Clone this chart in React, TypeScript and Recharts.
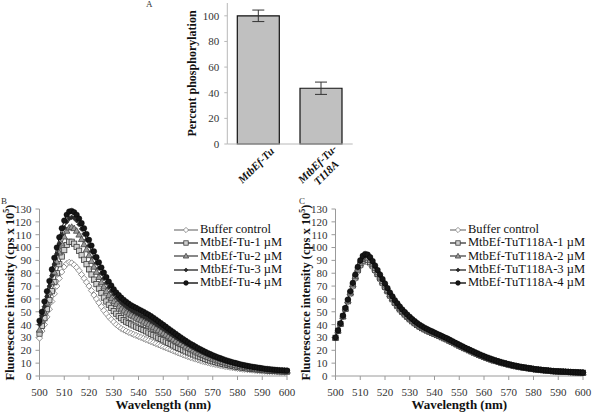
import * as React from "react";
import { BarChart, Bar, ErrorBar, LineChart, Line, XAxis, YAxis, Legend } from "recharts";

const SERIF = "'Times New Roman', Times, 'Liberation Serif', 'DejaVu Serif', serif";

// panel A
const barNames = ["MtbEf-Tu", "MtbEf-Tu-T118A"];
const barLines = [["MtbEf-Tu"], ["MtbEf-Tu-", "T118A"]];
const barValues = [100, 43.5];
const barErrors = [4.5, 4.8];
const barTicks = [0, 20, 40, 60, 80, 100];

// panels B and C
const wavelengths = [
  500, 501, 502, 503, 504, 505, 506, 507, 508, 509,
  510, 511, 512, 513, 514, 515, 516, 517, 518, 519,
  520, 521, 522, 523, 524, 525, 526, 527, 528, 529,
  530, 531, 532, 533, 534, 535, 536, 537, 538, 539,
  540, 541, 542, 543, 544, 545, 546, 547, 548, 549,
  550, 551, 552, 553, 554, 555, 556, 557, 558, 559,
  560, 561, 562, 563, 564, 565, 566, 567, 568, 569,
  570, 571, 572, 573, 574, 575, 576, 577, 578, 579,
  580, 581, 582, 583, 584, 585, 586, 587, 588, 589,
  590, 591, 592, 593, 594, 595, 596, 597, 598, 599,
  600,
];
const xTicks = [500, 510, 520, 530, 540, 550, 560, 570, 580, 590, 600];
const yTicks = [0, 10, 20, 30, 40, 50, 60, 70, 80, 90, 100, 110, 120, 130];

const bBuffer = [
  29.5, 35, 40, 46, 52, 58, 64, 70, 76, 81,
  85, 87.5, 88.5, 88, 86.5, 84.5, 82, 79, 76, 73,
  70, 66.5, 63, 60, 57, 54, 51, 48.5, 46, 44,
  42, 40, 38.5, 37, 36, 35, 34, 33.2, 32.4, 31.6,
  30.8, 30, 29.2, 28.4, 27.6, 26.8, 26, 25.2, 24.4, 23.6,
  22.8, 22, 21.2, 20.4, 19.6, 18.8, 18, 17.2, 16.5, 15.8,
  15.1, 14.4, 13.8, 13.2, 12.6, 12, 11.4, 10.9, 10.4, 9.9,
  9.4, 9, 8.6, 8.2, 7.8, 7.4, 7.1, 6.8, 6.5, 6.2,
  5.9, 5.6, 5.4, 5.2, 5, 4.8, 4.6, 4.4, 4.2, 4,
  3.8, 3.7, 3.6, 3.5, 3.4, 3.3, 3.2, 3.1, 3, 2.9,
  2.8,
];
const bOne = [
  33, 39, 45, 52, 59, 66, 73, 80, 87, 93,
  98, 102, 104.5, 104.5, 103, 100.5, 97.5, 94, 90.5, 87,
  83, 79, 75, 71.5, 68, 64.5, 61, 58, 55.5, 53,
  50.5, 48.5, 46.5, 45, 43.5, 42.3, 41.2, 40.2, 39.3, 38.4,
  37.5, 36.6, 35.7, 34.8, 33.8, 32.8, 31.8, 30.8, 29.8, 28.8,
  27.8, 26.8, 25.8, 24.8, 23.8, 22.8, 21.9, 21, 20.1, 19.2,
  18.4, 17.6, 16.8, 16, 15.3, 14.6, 13.9, 13.2, 12.6, 12,
  11.4, 10.9, 10.4, 9.9, 9.4, 9, 8.6, 8.2, 7.8, 7.4,
  7.1, 6.8, 6.5, 6.2, 5.9, 5.7, 5.5, 5.3, 5.1, 4.9,
  4.7, 4.5, 4.3, 4.1, 4, 3.9, 3.8, 3.7, 3.6, 3.5,
  3.4,
];
const bTwo = [
  36, 43, 50, 57, 65, 73, 81, 89, 96, 103,
  108.5, 113, 115.5, 116, 115, 113, 110, 106.5, 102.5, 98.5,
  94, 89.5, 85, 81, 77, 73, 69.5, 66, 63, 60.5,
  58, 56, 54, 52.3, 50.8, 49.5, 48.3, 47.2, 46.2, 45.2,
  44.2, 43.2, 42.2, 41.2, 40.1, 39, 37.9, 36.8, 35.6, 34.4,
  33.2, 32, 30.8, 29.6, 28.4, 27.2, 26.1, 25, 23.9, 22.8,
  21.8, 20.8, 19.8, 18.9, 18, 17.1, 16.3, 15.5, 14.7, 14,
  13.3, 12.6, 12, 11.4, 10.8, 10.3, 9.8, 9.3, 8.9, 8.5,
  8.1, 7.7, 7.4, 7.1, 6.8, 6.5, 6.2, 5.9, 5.7, 5.5,
  5.3, 5.1, 4.9, 4.7, 4.5, 4.4, 4.3, 4.2, 4.1, 4,
  3.9,
];
const bThree = [
  40, 47, 54, 62, 70, 78, 87, 95, 103, 110,
  115.5, 120, 122.5, 123.5, 123, 121, 118, 114.5, 110.5, 106,
  101.5, 97, 92.5, 88, 84, 80, 76, 72.5, 69, 66,
  63.5, 61, 59, 57, 55.3, 53.8, 52.4, 51.2, 50, 49,
  48, 47, 46, 45, 43.9, 42.8, 41.6, 40.4, 39.2, 38,
  36.7, 35.4, 34.1, 32.8, 31.5, 30.2, 29, 27.8, 26.6, 25.4,
  24.3, 23.2, 22.1, 21.1, 20.1, 19.1, 18.2, 17.3, 16.4, 15.6,
  14.8, 14.1, 13.4, 12.7, 12.1, 11.5, 10.9, 10.4, 9.9, 9.4,
  8.9, 8.5, 8.1, 7.7, 7.3, 7, 6.7, 6.4, 6.1, 5.8,
  5.6, 5.4, 5.2, 5, 4.8, 4.6, 4.5, 4.4, 4.3, 4.2,
  4.1,
];
const bFour = [
  43, 50, 58, 66, 74, 83, 92, 100, 108, 115,
  121, 125.5, 128, 128.5, 127.5, 125.5, 122.5, 119, 115, 110.5,
  106, 101.5, 97, 92.5, 88.5, 84.5, 80.5, 77, 73.5, 70.5,
  67.5, 65, 63, 61, 59.3, 57.8, 56.4, 55.1, 54, 53,
  52, 51, 50, 48.9, 47.8, 46.6, 45.3, 44, 42.6, 41.2,
  39.8, 38.4, 37, 35.6, 34.2, 32.8, 31.4, 30.1, 28.8, 27.5,
  26.3, 25.1, 24, 22.9, 21.8, 20.8, 19.8, 18.8, 17.9, 17,
  16.2, 15.4, 14.6, 13.9, 13.2, 12.5, 11.9, 11.3, 10.7, 10.2,
  9.7, 9.2, 8.7, 8.3, 7.9, 7.5, 7.2, 6.9, 6.6, 6.3,
  6, 5.7, 5.5, 5.3, 5.1, 4.9, 4.7, 4.5, 4.4, 4.3,
  4.2,
];

const cBuffer = [
  29.5, 35, 40.3, 46, 51.8, 57.5, 63.5, 69.5, 75.5, 81,
  85, 88, 89, 88.5, 86.8, 84.3, 81.2, 78, 74.8, 71.5,
  68.2, 64.9, 61.6, 58.8, 55.9, 53.5, 51.1, 49, 47.1, 45.2,
  43.5, 41.9, 40.4, 39, 37.8, 36.7, 35.7, 34.8, 33.9, 33.1,
  32.3, 31.5, 30.6, 29.8, 28.9, 28.1, 27.1, 26.2, 25.2, 24.3,
  23.3, 22.4, 21.4, 20.6, 19.7, 18.8, 18, 17.1, 16.2, 15.5,
  14.7, 14, 13.3, 12.6, 11.9, 11.4, 10.8, 10.2, 9.7, 9.2,
  8.7, 8.3, 7.9, 7.5, 7.1, 6.8, 6.5, 6.2, 5.9, 5.6,
  5.3, 5, 4.8, 4.6, 4.4, 4.2, 4, 3.8, 3.7, 3.6,
  3.5, 3.4, 3.3, 3.2, 3.1, 3, 2.9, 2.8, 2.7, 2.6,
  2.5,
];
const cOne = [
  29.7, 35.2, 40.5, 46.3, 52.2, 58.2, 64.4, 70.5, 76.7, 82.4,
  86.7, 89.8, 91, 90.5, 88.7, 86, 82.7, 79.4, 76.1, 72.7,
  69.4, 66.1, 62.7, 59.8, 56.9, 54.4, 51.9, 49.8, 47.9, 46,
  44.2, 42.6, 41.1, 39.7, 38.4, 37.3, 36.3, 35.4, 34.5, 33.6,
  32.8, 31.9, 31.1, 30.2, 29.3, 28.5, 27.5, 26.6, 25.6, 24.6,
  23.6, 22.7, 21.7, 20.9, 20, 19.1, 18.2, 17.4, 16.5, 15.7,
  14.9, 14.2, 13.5, 12.8, 12.1, 11.6, 11, 10.4, 9.9, 9.4,
  8.9, 8.4, 8, 7.6, 7.2, 6.9, 6.6, 6.3, 6, 5.7,
  5.4, 5.1, 4.9, 4.7, 4.5, 4.3, 4.1, 3.9, 3.7, 3.6,
  3.5, 3.4, 3.3, 3.2, 3.1, 3, 2.9, 2.8, 2.7, 2.6,
  2.5,
];
const cTwo = [
  29.8, 35.3, 40.7, 46.6, 52.5, 58.8, 65.1, 71.4, 77.7, 83.5,
  88, 91.3, 92.5, 92, 90.1, 87.3, 84, 80.6, 77.2, 73.8,
  70.4, 67, 63.6, 60.7, 57.8, 55.2, 52.7, 50.5, 48.6, 46.6,
  44.9, 43.2, 41.7, 40.3, 39, 37.9, 36.8, 35.9, 34.9, 34,
  33.2, 32.3, 31.4, 30.6, 29.7, 28.8, 27.8, 26.9, 25.9, 24.9,
  23.9, 22.9, 21.9, 21.1, 20.2, 19.3, 18.4, 17.5, 16.7, 15.9,
  15.1, 14.3, 13.6, 12.9, 12.2, 11.7, 11.1, 10.5, 10, 9.5,
  9, 8.5, 8.1, 7.7, 7.3, 6.9, 6.6, 6.3, 6, 5.7,
  5.4, 5.1, 4.9, 4.7, 4.5, 4.3, 4.1, 3.9, 3.8, 3.7,
  3.6, 3.5, 3.4, 3.3, 3.2, 3.1, 3, 2.9, 2.8, 2.7,
  2.6,
];
const cThree = [
  29.9, 35.4, 40.9, 46.8, 52.8, 59.2, 65.6, 72, 78.4, 84.3,
  89, 92.4, 93.8, 93.3, 91.3, 88.4, 85, 81.6, 78.1, 74.7,
  71.2, 67.8, 64.3, 61.4, 58.4, 55.9, 53.4, 51.2, 49.2, 47.2,
  45.5, 43.8, 42.2, 40.8, 39.5, 38.3, 37.2, 36.3, 35.3, 34.4,
  33.5, 32.6, 31.7, 30.9, 30, 29.1, 28.1, 27.1, 26.1, 25.1,
  24.1, 23.1, 22.1, 21.3, 20.4, 19.5, 18.6, 17.7, 16.8, 16,
  15.2, 14.4, 13.7, 13, 12.3, 11.8, 11.2, 10.6, 10.1, 9.6,
  9.1, 8.6, 8.2, 7.8, 7.4, 7, 6.7, 6.4, 6.1, 5.8,
  5.5, 5.2, 5, 4.8, 4.6, 4.4, 4.2, 4, 3.8, 3.7,
  3.6, 3.5, 3.4, 3.3, 3.2, 3.1, 3, 2.9, 2.8, 2.7,
  2.6,
];
const cFour = [
  30, 35.5, 41, 47, 53, 59.5, 66, 72.5, 79, 85,
  90, 93.5, 95, 94.5, 92.5, 89.5, 86, 82.5, 79, 75.5,
  72, 68.5, 65, 62, 59, 56.5, 54, 51.8, 49.8, 47.8,
  46, 44.3, 42.7, 41.2, 39.9, 38.7, 37.6, 36.6, 35.6, 34.7,
  33.8, 32.9, 32, 31.1, 30.2, 29.3, 28.3, 27.3, 26.3, 25.3,
  24.3, 23.3, 22.3, 21.4, 20.5, 19.6, 18.7, 17.8, 16.9, 16.1,
  15.3, 14.5, 13.8, 13.1, 12.4, 11.8, 11.2, 10.6, 10.1, 9.6,
  9.1, 8.6, 8.2, 7.8, 7.4, 7, 6.7, 6.4, 6.1, 5.8,
  5.5, 5.2, 5, 4.8, 4.6, 4.4, 4.2, 4, 3.8, 3.7,
  3.6, 3.5, 3.4, 3.3, 3.2, 3.1, 3, 2.9, 2.8, 2.7,
  2.6,
];

const namesB = ["Buffer control", "MtbEf-Tu-1 µM", "MtbEf-Tu-2 µM", "MtbEf-Tu-3 µM", "MtbEf-Tu-4 µM"];
const namesC = ["Buffer control", "MtbEf-TuT118A-1 µM", "MtbEf-TuT118A-2 µM", "MtbEf-TuT118A-3 µM", "MtbEf-TuT118A-4 µM"];

const markers = ["diamond", "square", "triangle", "small", "circle"];
const lineColors = ["#8a8a8a", "#444", "#555", "#333", "#111"];
const keys = ["s0", "s1", "s2", "s3", "s4"];

const rowsB = wavelengths.map((w, i) => ({ w, s0: bBuffer[i], s1: bOne[i], s2: bTwo[i], s3: bThree[i], s4: bFour[i] }));
const rowsC = wavelengths.map((w, i) => ({ w, s0: cBuffer[i], s1: cOne[i], s2: cTwo[i], s3: cThree[i], s4: cFour[i] }));
const barRows = barNames.map((name, i) => ({ name, value: barValues[i], err: barErrors[i] }));

function Marker({ kind, cx, cy, k = 1 }: { kind: string; cx: number; cy: number; k?: number }) {
  if (kind === "diamond") {
    const s = 3.1 * k;
    return <path d={`M${cx},${cy - s}L${cx + s},${cy}L${cx},${cy + s}L${cx - s},${cy}Z`} fill="#fff" stroke="#7a7a7a" strokeWidth={0.8} />;
  }
  if (kind === "square") {
    const s = 2.6 * k;
    return <rect x={cx - s} y={cy - s} width={2 * s} height={2 * s} fill="#d0d0d0" stroke="#3a3a3a" strokeWidth={0.8} />;
  }
  if (kind === "triangle") {
    const s = 3.2 * k;
    return <path d={`M${cx},${cy - s}L${cx + s},${cy + 0.75 * s}L${cx - s},${cy + 0.75 * s}Z`} fill="#9a9a9a" stroke="#444" strokeWidth={0.8} />;
  }
  if (kind === "small") {
    const s = 2.4 * k;
    return <path d={`M${cx},${cy - s}L${cx + s},${cy}L${cx},${cy + s}L${cx - s},${cy}Z`} fill="#2a2a2a" stroke="#222" strokeWidth={0.6} />;
  }
  return <circle cx={cx} cy={cy} r={2.8 * k} fill="#161616" stroke="#000" strokeWidth={0.4} />;
}

const makeDot = (kind: string, tag: string) => (p: any) => {
  const { cx, cy, index } = p;
  if (cx == null || cy == null) return <g key={`${tag}-${index}`} />;
  return (
    <g key={`${tag}-${index}`}>
      <Marker kind={kind} cx={cx} cy={cy} />
    </g>
  );
};

function LegendBox({ names, lineW, gap }: { names: string[]; lineW: number; gap: number }) {
  return (
    <div style={{ fontFamily: SERIF, fontSize: 12.5, color: "#111", lineHeight: "13.3px" }}>
      {names.map((n, i) => (
        <div key={n} style={{ display: "flex", alignItems: "center", height: 13.3, whiteSpace: "nowrap" }}>
          <svg width={lineW} height={10} style={{ marginRight: gap }}>
            <line x1={0} y1={5} x2={lineW} y2={5} stroke={lineColors[i]} strokeWidth={1.4} />
            <Marker kind={markers[i]} cx={lineW / 2} cy={5} k={0.85} />
          </svg>
          <span>{n}</span>
        </div>
      ))}
    </div>
  );
}

function YTitle(props: any) {
  const vb = props.viewBox || {};
  const x = 10;
  const y = vb.y + vb.height / 2;
  return (
    <text x={x} y={y} transform={`rotate(-90 ${x} ${y})`} textAnchor="middle" dominantBaseline="central"
      fontFamily={SERIF} fontSize={12.5} fontWeight="bold" fill="#111">
      Fluorescence intensity (cps x 10
      <tspan dy={-4} fontSize={8}>5</tspan>
      <tspan dy={4}>)</tspan>
    </text>
  );
}

function XTitle(props: any) {
  const vb = props.viewBox || {};
  return (
    <text x={vb.x + vb.width / 2} y={vb.y + 33} textAnchor="middle" fontFamily={SERIF} fontSize={13} fontWeight="bold" fill="#111">
      Wavelength (nm)
    </text>
  );
}

function SpectrumPanel({ rows, names, legendLeft, lineW, gap }: { rows: any[]; names: string[]; legendLeft: number; lineW: number; gap: number }) {
  const tickStyle = { fontSize: 11, fill: "#333", fontFamily: SERIF };
  return (
    <LineChart width={296} height={218} data={rows} margin={{ top: 14, right: 9, left: 0, bottom: 0 }}>
      <XAxis dataKey="w" type="number" domain={[500, 600]} ticks={xTicks} interval={0} tick={tickStyle}
        tickSize={4} tickMargin={8} stroke="#9a9a9a" height={37} label={(p: any) => <XTitle {...p} />} />
      <YAxis domain={[0, 130]} ticks={yTicks} interval={0} tick={tickStyle} tickSize={4} tickMargin={4}
        stroke="#9a9a9a" width={39.5} label={(p: any) => <YTitle {...p} />} />
      {keys.map((k, i) => (
        <Line key={k} dataKey={k} stroke={lineColors[i]} strokeWidth={1} isAnimationActive={false}
          dot={makeDot(markers[i], k)} activeDot={false} />
      ))}
      <Legend layout="vertical" align="center" verticalAlign="middle"
        wrapperStyle={{ left: legendLeft, top: 28, width: "auto" }}
        content={() => <LegendBox names={names} lineW={lineW} gap={gap} />} />
    </LineChart>
  );
}

function CatTick(props: any) {
  const { x, y, index } = props;
  const lines = barLines[index] || [];
  return (
    <g transform={`translate(${x},${y}) rotate(-45)`}>
      {lines.map((t: string, j: number) => (
        <text key={t} x={-17} y={lines.length === 1 ? 17 : 15 + j * 12.5} textAnchor="middle"
          fontFamily={SERIF} fontSize={11} fontWeight="bold" fontStyle="italic" fill="#111">
          {t}
        </text>
      ))}
    </g>
  );
}

function PhosPanel() {
  return (
    <BarChart width={220} height={200} data={barRows} margin={{ top: 3, right: 7.3, left: 0, bottom: 0 }} barSize={42}>
      <XAxis dataKey="name" height={56} tickLine={false} tickSize={0} tickMargin={0} stroke="#b8b8b8" interval={0} tick={<CatTick />} />
      <XAxis xAxisId="top" orientation="top" dataKey="name" height={0} tick={false} tickLine={false} stroke="#cccccc" />
      <YAxis domain={[0, 110]} ticks={barTicks} interval={0} width={87.3} tickSize={3} tickMargin={5} stroke="#b8b8b8"
        tick={{ fontSize: 11, fill: "#333", fontFamily: SERIF }}
        label={(p: any) => {
          const vb = p.viewBox || {};
          const x = 52;
          const y = vb.y + vb.height / 2;
          return (
            <text x={x} y={y} transform={`rotate(-90 ${x} ${y})`} textAnchor="middle" dominantBaseline="central"
              fontFamily={SERIF} fontSize={12} fontWeight="bold" fill="#111">
              Percent phosphorylation
            </text>
          );
        }} />
      <YAxis yAxisId="right" orientation="right" width={0} domain={[0, 110]} tick={false} tickLine={false} stroke="#cccccc" />
      <Bar dataKey="value" fill="#c0c0c0" stroke="#111" strokeWidth={1.2} isAnimationActive={false}>
        <ErrorBar dataKey="err" width={6} stroke="#333" strokeWidth={1} />
      </Bar>
    </BarChart>
  );
}

const panelLetter = (t: string, left: number, top: number) => (
  <div style={{ position: "absolute", left, top, fontFamily: SERIF, fontSize: 9, color: "#333", lineHeight: "9px" }}>{t}</div>
);

export default function App() {
  return (
    <div style={{ position: "absolute", left: 0, top: 0, width: 592, height: 413, background: "#fff", overflow: "hidden", fontFamily: SERIF }}>
      <div style={{ position: "absolute", left: 140, top: 0 }}>
        <PhosPanel />
      </div>
      <div style={{ position: "absolute", left: 0, top: 195 }}>
        <SpectrumPanel rows={rowsB} names={namesB} legendLeft={174} lineW={24} gap={2} />
      </div>
      <div style={{ position: "absolute", left: 296, top: 195 }}>
        <SpectrumPanel rows={rowsC} names={namesC} legendLeft={154} lineW={16} gap={2} />
      </div>
      {panelLetter("A", 146, 0)}
      {panelLetter("B", 1, 197)}
      {panelLetter("C", 299, 197)}
    </div>
  );
}
